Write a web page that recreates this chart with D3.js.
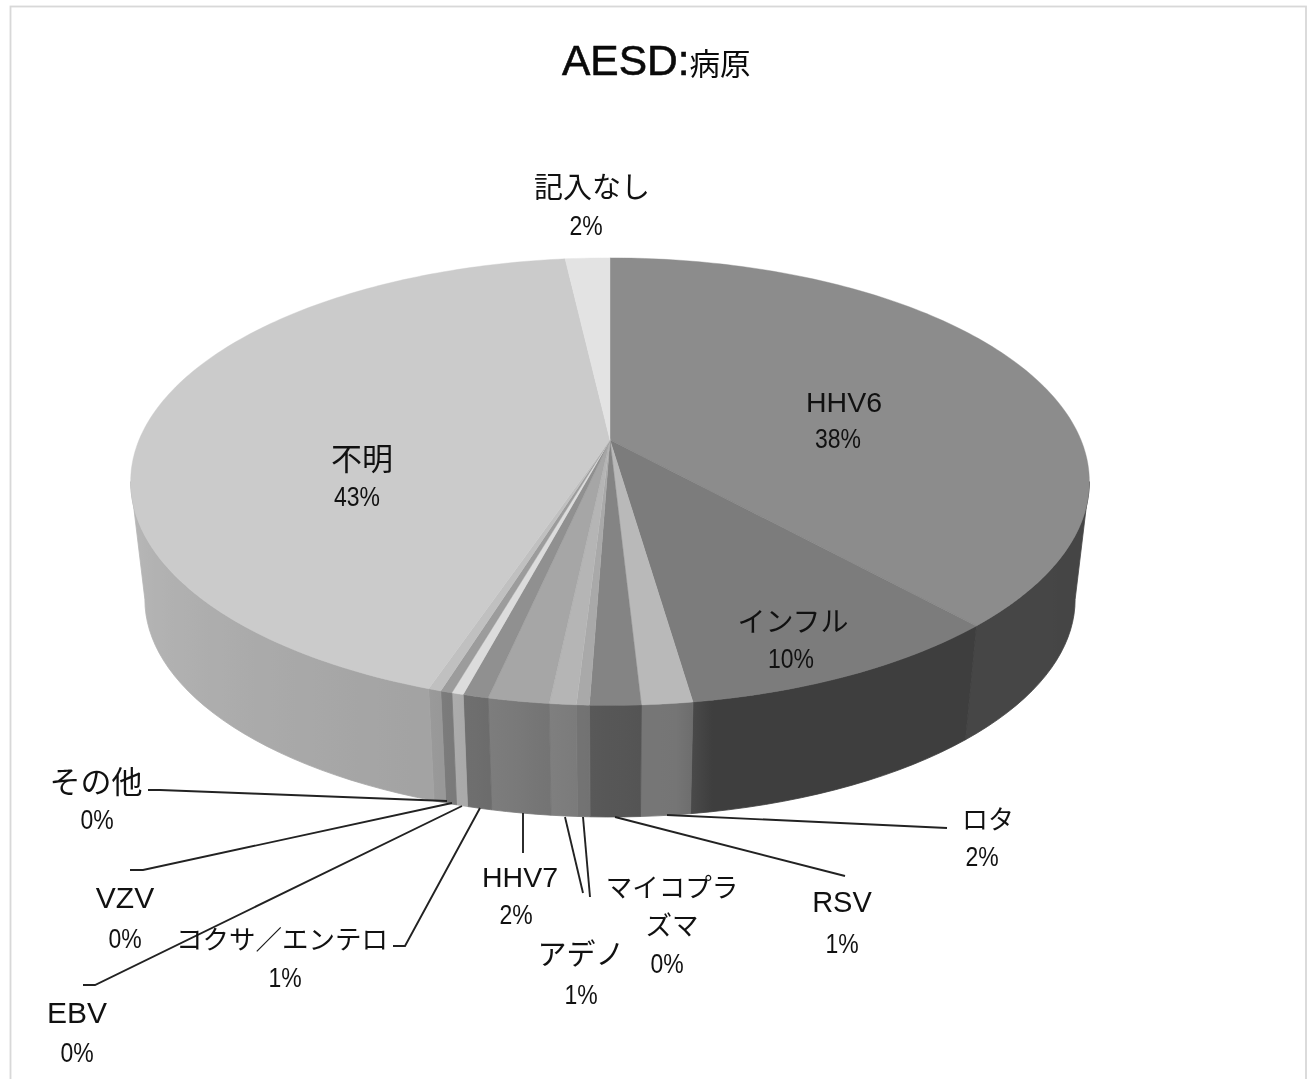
<!DOCTYPE html>
<html><head><meta charset="utf-8">
<script src="https://cdnjs.cloudflare.com/ajax/libs/d3/7.8.5/d3.min.js"></script>
<style>html,body{margin:0;padding:0;background:#fff;overflow:hidden}svg{display:block;filter:blur(0.45px)}</style>
</head><body><svg id="c" width="1313" height="1079"></svg>
<script>
const categories = ["HHV6","インフル","ロタ","RSV","マイコプラズマ","アデノ","HHV7","コクサ／エンテロ","EBV","VZV","その他","不明","記入なし"];
const values = [38.3,9.4,1.43,1.43,0.36,0.75,1.72,0.72,0.33,0.33,0.36,43.06,1.8];
const percentLabels = ["38%","10%","2%","1%","0%","1%","2%","1%","0%","0%","0%","43%","2%"];
const titleText = "AESD:";
const titleCjk = "病原";

const topGray = ["#8c8c8c","#7c7c7c","#b9b9b9","#848484","#a9a9a9","#b5b5b5","#a6a6a6","#909090","#dcdcdc","#9c9c9c","#c0c0c0","#cbcbcb","#e3e3e3"];
const labelLayout = [
 {size:28.5,name:[[844,402]],pct:[838,438]},
 {size:28,name:[[793,620]],pct:[791,658]},
 {size:26,name:[[988,818]],pct:[982,856],lead:[[947,828],[667,815]]},
 {size:29,name:[[842,902]],pct:[842,943],lead:[[845,876],[615,817]]},
 {size:26.5,name:[[672,886],[672,924]],lines:["マイコプラ","ズマ"],pct:[667,963],lead:[[590,897],[583,817]]},
 {size:29,name:[[581,953]],pct:[581,994],lead:[[583,893],[565,817]]},
 {size:28.5,name:[[520,877]],pct:[516,914],lead:[[523,853],[523,813]]},
 {size:26.5,name:[[282,938]],pct:[285,977],lead:[[393,946],[405,946],[480,808]]},
 {size:30,name:[[77,1012]],pct:[77,1052],lead:[[83,985],[95,985],[462,806]]},
 {size:30,name:[[125,897]],pct:[125,938],lead:[[130,870],[143,870],[452,803]]},
 {size:31,name:[[96,780]],pct:[97,819],lead:[[148,790],[160,790],[447,801]]},
 {size:31,name:[[362,457]],pct:[357,496]},
 {size:29,name:[[592,186]],pct:[586,225]}
];

const svg = d3.select("#c");
const defs = svg.append("defs");
svg.append("rect").attr("x",10.5).attr("y",6.5).attr("width",1295.5).attr("height",1090)
  .attr("fill","#fff").attr("stroke","#d8d8d8").attr("stroke-width",1.8);

// perspective projection of the disc
const k = 0.186;
const discTop = {cx:610, cy:440, a:471, b:216};
const discBot = {cx:610, cy:559, a:457, b:210};
const project = (d, t) => { // t: clockwise from 12 o'clock, radians
  const u = Math.sin(t), v = -Math.cos(t), w = 1 - k*v;
  return [d.cx + d.a*u/w, d.cy + d.b*v/w];
};
const arcs = d3.pie().value(d=>d).sort(null)(values);
const g = svg.append("g");
// side wall shading by angular distance from front (positive = right side)
const lightAt = d3.scaleLinear().domain([-90,-18,-6,3,8.2,8.4,42,90]).range([0.93,0.8,0.7,0.64,0.63,0.5,0.5,0.49]).clamp(true);
const phiOf = t => 180 - t*180/Math.PI, tOf = phi => (180-phi)*Math.PI/180;
const limit = Math.acos(k)*180/Math.PI; // silhouette tangent angle
const wallG = g.append("g");
arcs.forEach((s,i)=>{
  const p0 = Math.min(limit,phiOf(s.startAngle)), p1 = Math.max(-limit,phiOf(s.endAngle));
  if (p0<=p1) return;
  const n = Math.max(2,Math.ceil((p0-p1)/2));
  const phis = d3.range(n+1).map(j=>p0+(p1-p0)*j/n);
  const topRim = phis.map(p=>project(discTop,tOf(p)));
  const botRim = phis.map(p=>project(discBot,tOf(p))).reverse();
  const x0 = topRim[0][0], x1 = topRim[n][0];
  const id = "wall"+i;
  const grad = defs.append("linearGradient").attr("id",id).attr("gradientUnits","userSpaceOnUse")
    .attr("x1",x0).attr("x2",x1).attr("y1",0).attr("y2",0);
  phis.forEach((p,j)=>{
    const v = Math.round(d3.rgb(topGray[i]).r*lightAt((p+p0*0.0)));
    grad.append("stop").attr("offset",(topRim[j][0]-x0)/(x1-x0)).attr("stop-color",`rgb(${v},${v},${v})`);
  });
  wallG.append("path").attr("d",d3.line()([...topRim,...botRim])+"Z")
    .attr("fill",`url(#${id})`).attr("stroke",`url(#${id})`).attr("stroke-width",0.8);
});
// top face
const faceG = g.append("g");
arcs.forEach((s,i)=>{
  const n = Math.max(2,Math.ceil((s.endAngle-s.startAngle)/(Math.PI/180)));
  const rim = d3.range(n+1).map(j=>project(discTop,s.startAngle+(s.endAngle-s.startAngle)*j/n));
  faceG.append("path").attr("d",d3.line()([[discTop.cx,discTop.cy],...rim])+"Z")
    .attr("fill",topGray[i]).attr("stroke",topGray[i]).attr("stroke-width",0.4);
});

// leaders
const leaders = svg.append("g");
labelLayout.forEach(l=>{ if(l.lead) leaders.append("path").attr("d",d3.line()(l.lead))
  .attr("fill","none").attr("stroke","#222").attr("stroke-width",1.9); });

const latin = "'Liberation Sans',Arial,sans-serif", cjk = "'Noto Sans CJK JP','Liberation Sans',sans-serif";
const labels = svg.append("g").attr("fill","#111");
const isLatin = s => /^[A-Z0-9]+$/.test(s);
labelLayout.forEach((l,i)=>{
  const lines = l.lines || [categories[i]];
  lines.forEach((txt,j)=>{
    const [x,y]=l.name[j];
    labels.append("text").attr("x",x).attr("y",isLatin(txt)?y:y+2).attr("dy","0.35em").attr("text-anchor","middle")
      .attr("font-family",isLatin(txt)?latin:cjk).attr("font-size",l.size).text(txt);
  });
  const t = labels.append("text").attr("x",l.pct[0]).attr("y",l.pct[1]).attr("dy","0.35em").attr("text-anchor","middle")
    .attr("font-family",latin).attr("font-size",28).text(percentLabels[i]);
  const w = t.node().getComputedTextLength();
  t.attr("textLength",w*0.82).attr("lengthAdjust","spacingAndGlyphs");
});
// title
const title = svg.append("text").attr("x",562).attr("y",75).attr("fill","#0a0a0a");
title.append("tspan").attr("font-family",latin).attr("font-size",42.5).attr("stroke","#0a0a0a").attr("stroke-width",0.6).text(titleText);
title.append("tspan").attr("font-family",cjk).attr("font-size",30.5).text(titleCjk);
</script></body></html>
